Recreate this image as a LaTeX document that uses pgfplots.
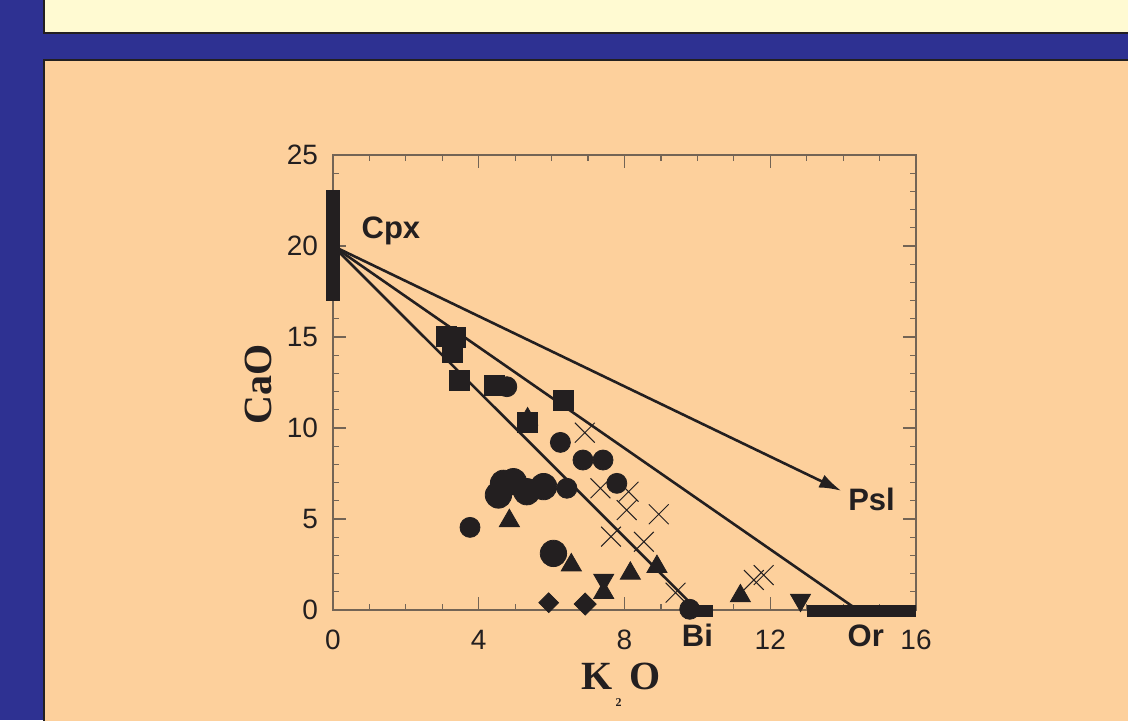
\documentclass[border=0pt]{standalone}
\usepackage{pgfplots}
\pgfplotsset{compat=1.18}
\usepackage{fontspec}
\setmainfont{Liberation Sans}
\newfontfamily\serifb{Liberation Serif}
\usetikzlibrary{arrows.meta}
\definecolor{navy}{RGB}{46,49,146}
\definecolor{cream}{RGB}{255,250,210}
\definecolor{peach}{RGB}{253,208,156}
\definecolor{ink}{RGB}{35,31,32}
\definecolor{axc}{RGB}{115,100,85}
\begin{document}
\begin{tikzpicture}[x=0.5pt,y=0.5pt]
\clip (0,0) rectangle (1128,720);
\fill[navy] (0,0) rectangle (1128,720);
\filldraw[fill=cream,draw=ink,line width=1pt] (44,687) rectangle (1140,740);
\filldraw[fill=peach,draw=ink,line width=1pt] (44,-20) rectangle (1140,660);
\begin{axis}[
  at={(166.5pt,55pt)}, anchor=south west,
  scale only axis, width=291.5pt, height=227.5pt,
  xmin=0, xmax=16, ymin=0, ymax=25,
  xtick={0,4,8,12,16}, ytick={0,5,...,25},
  minor x tick num=3, minor y tick num=4,
  tick align=inside,
  major tick length=6.5pt, minor tick length=3pt,
  axis line style={axc, line width=0.6pt},
  tick style={axc, line width=0.6pt},
  tick label style={font=\fontsize{14}{14}\selectfont, text=ink},
  /pgf/number format/assume math mode=true,
  yticklabel style={xshift=-4pt},
  xticklabel style={yshift=-6.5pt},
  clip=false,
]
% Cpx bar
\addplot[ink, line width=7pt, line cap=butt] coordinates {(0,17.0) (0,23.1)};
% tie lines
\addplot[ink, line width=1.3pt] coordinates {(0,20) (10,0)};
\addplot[ink, line width=1.3pt] coordinates {(0,20) (14.4,0)};
\addplot[ink, line width=1.3pt, -{Latex[length=11pt,width=7pt]}] coordinates {(0,20) (13.95,6.55)};
% Or and Bi bars
\addplot[ink, line width=6pt, line cap=butt] coordinates {(13.0,-0.05) (16.0,-0.05)};
\addplot[ink, line width=6pt, line cap=butt] coordinates {(9.78,-0.05) (10.43,-0.05)};
% house triangle
\addplot[only marks, mark=triangle*, mark size=5.8pt, mark options={fill=ink, draw=ink}] coordinates {(5.34,10.49)};
% squares
\addplot[only marks, mark=square*, mark size=5pt, mark options={fill=ink, draw=ink}] coordinates {
(3.10,15.05) (3.37,14.96) (3.28,14.14) (3.46,12.62) (4.43,12.36) (6.33,11.54) (5.34,10.29)};
% medium circles
\addplot[only marks, mark=*, mark size=5pt, mark options={fill=ink, draw=ink}] coordinates {
(4.77,12.27) (6.24,9.21) (6.86,8.24) (7.41,8.24) (7.79,6.96) (6.42,6.69) (3.76,4.54) (9.79,0.04)};
% large circles
\addplot[only marks, mark=*, mark size=6.6pt, mark options={fill=ink, draw=ink}] coordinates {
(4.54,6.32) (4.68,6.96) (4.95,7.05) (5.32,6.5) (5.78,6.78) (6.05,3.11)};
% triangles up
\addplot[only marks, mark=triangle*, mark size=5.8pt, mark options={fill=ink, draw=ink}] coordinates {
(4.84,4.9) (6.54,2.47) (8.16,2.01) (8.89,2.38) (11.18,0.77) (7.43,0.95)};
% triangles down
\addplot[only marks, mark=triangle*, mark size=5.8pt, mark options={fill=ink, draw=ink, rotate=180}] coordinates {
(7.43,1.65) (12.83,0.55)};
% diamonds
\addplot[only marks, mark=square*, mark size=3.5pt, mark options={fill=ink, draw=ink, rotate=45}] coordinates {(5.92,0.4)};
\addplot[only marks, mark=square*, mark size=3.9pt, mark options={fill=ink, draw=ink, rotate=45}] coordinates {(6.92,0.33)};
% crosses
\addplot[only marks, mark=x, mark size=7pt, mark options={draw=ink, line width=0.5pt}] coordinates {
(6.91,9.74) (7.34,6.69) (8.11,6.5) (8.06,5.49) (8.94,5.26) (7.63,4.03) (8.53,3.75) (9.40,0.95) (11.55,1.65) (11.82,1.92)};
% labels
\node[anchor=base, font=\bfseries\fontsize{15.5}{15.5}\selectfont, text=ink] at (axis cs:1.59,20.42) {Cpx};
\node[anchor=base, font=\bfseries\fontsize{15.5}{15.5}\selectfont, text=ink] at (axis cs:14.78,5.46) {Psl};
\node[anchor=base, font=\bfseries\fontsize{15.5}{15.5}\selectfont, text=ink] at (axis cs:10.0,-1.98) {Bi};
\node[anchor=base, font=\bfseries\fontsize{15.5}{15.5}\selectfont, text=ink] at (axis cs:14.62,-1.98) {Or};
\end{axis}
\node[rotate=90, font=\serifb\bfseries\fontsize{20}{20}\selectfont, text=ink] at (258.5,335.5) {CaO};
\node[anchor=base, font=\serifb\bfseries\fontsize{20}{20}\selectfont, text=ink] at (621,31) {K\hspace{1.5pt}\raisebox{-8.5pt}{\fontsize{6}{6}\selectfont 2}\hspace{4pt}O};
\end{tikzpicture}
\end{document}
